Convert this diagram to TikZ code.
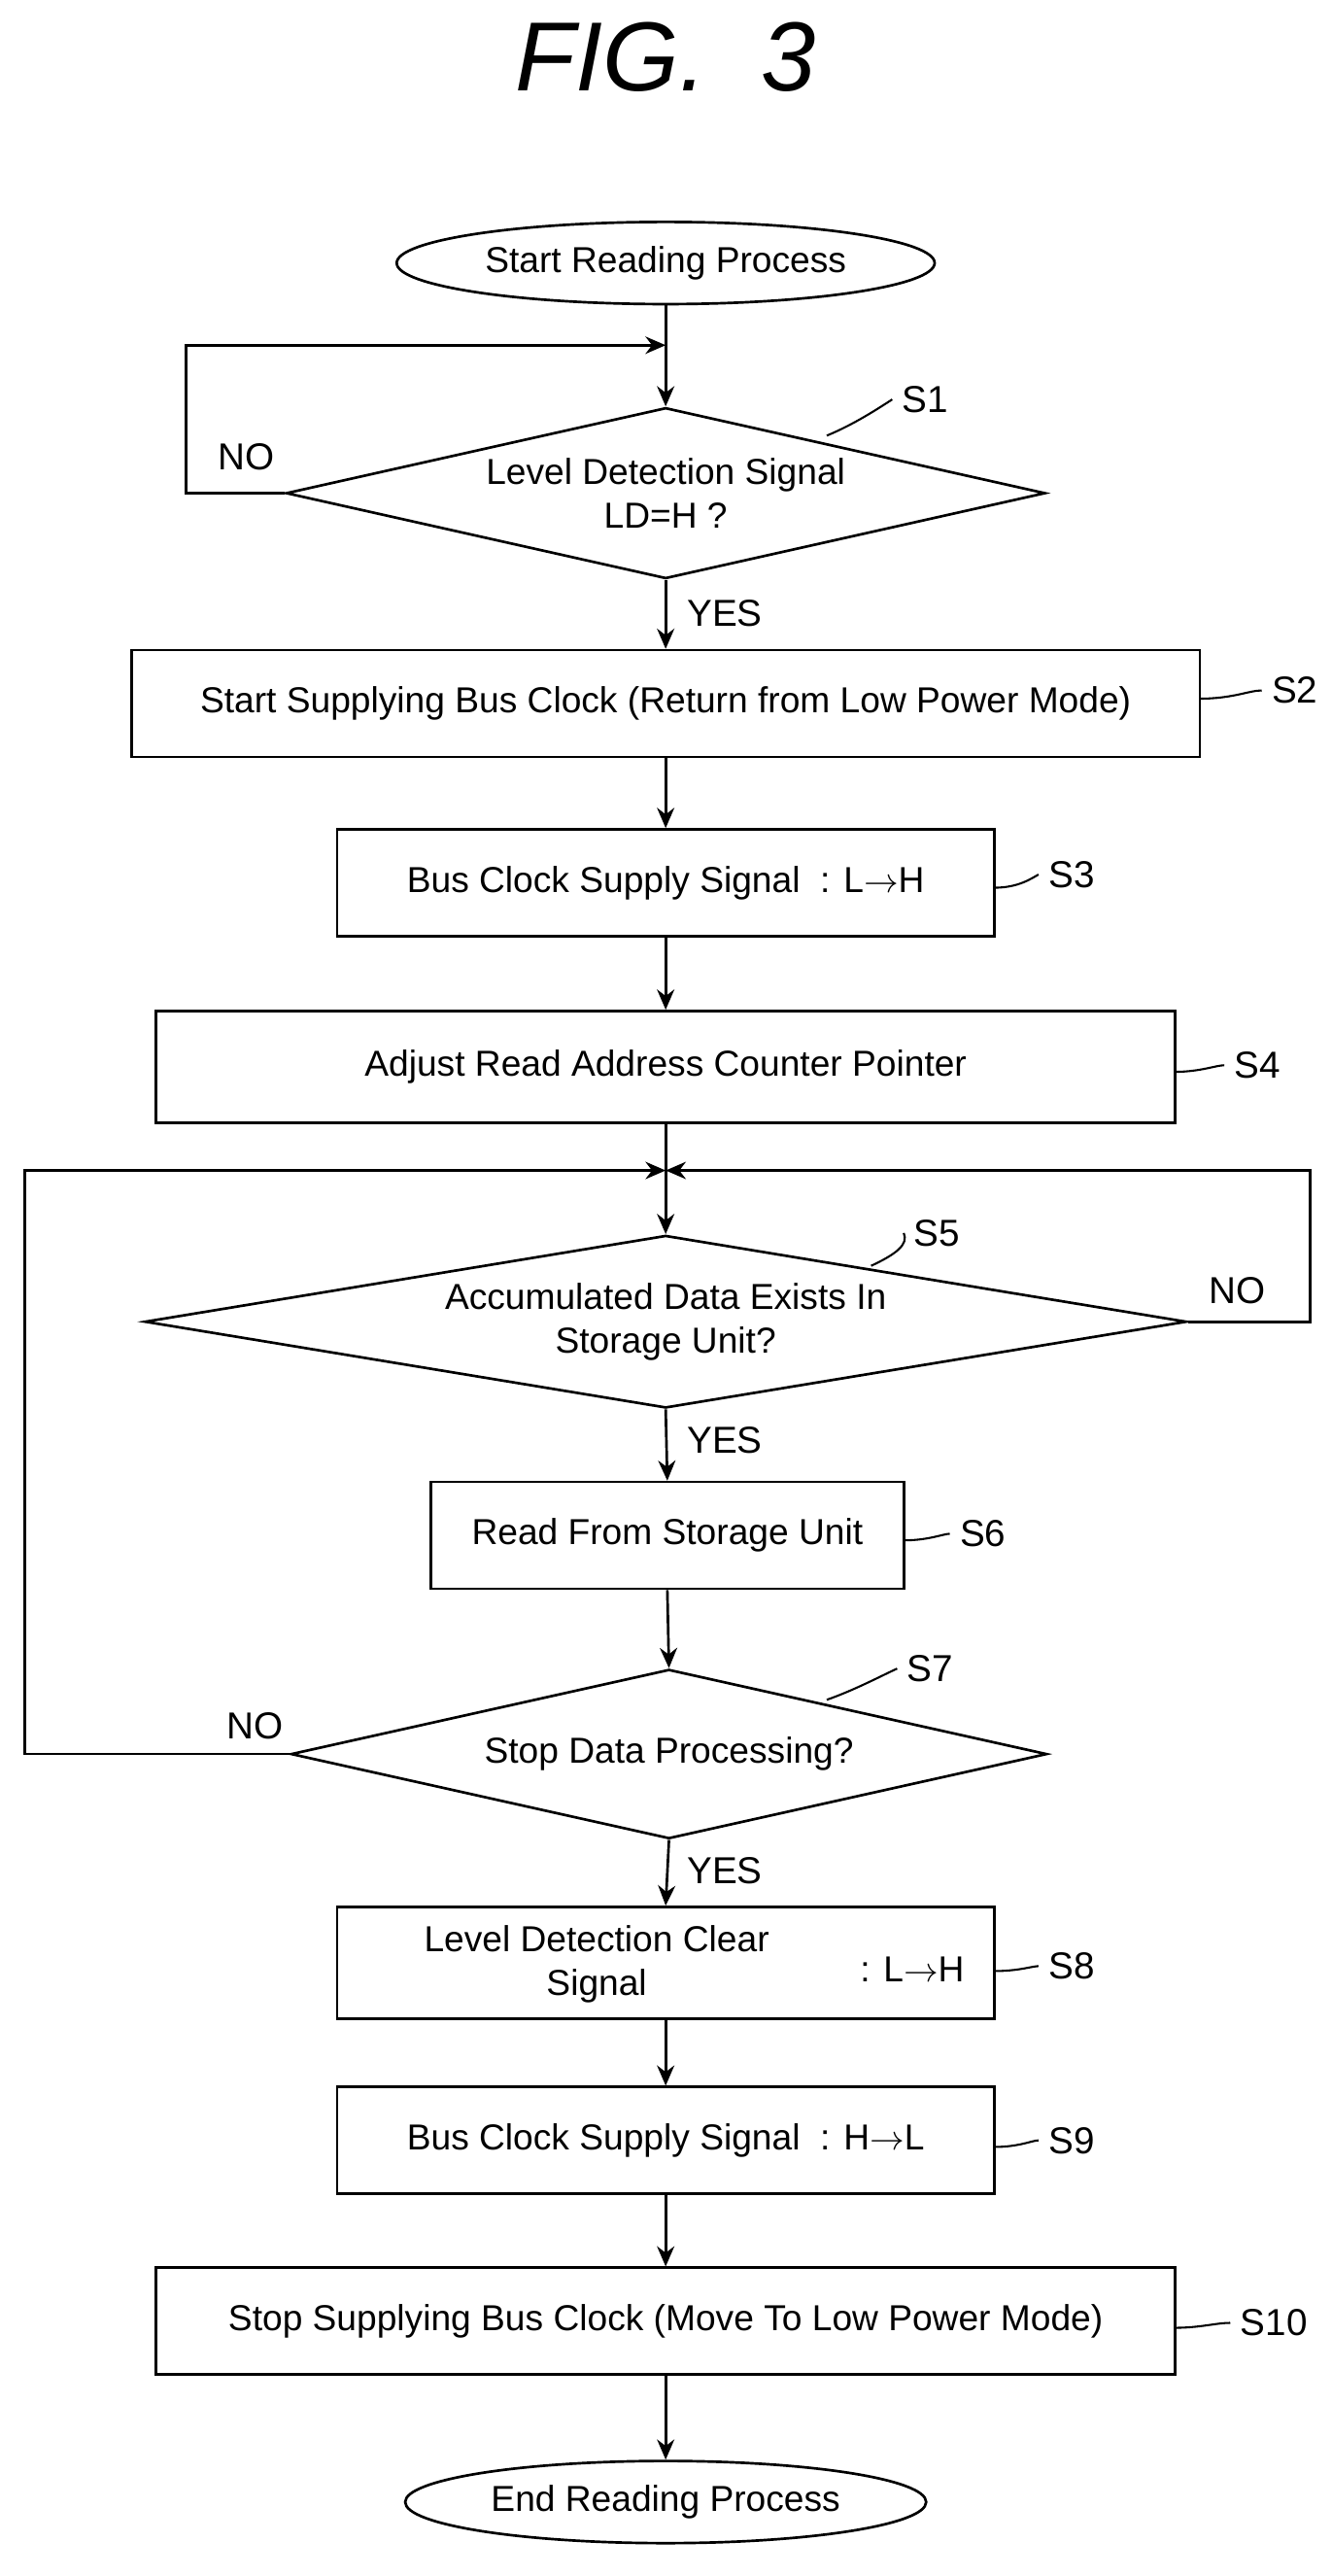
\documentclass[tikz,border=0pt]{standalone}
\usepackage{fontspec}
\setmainfont{Liberation Sans}
\usetikzlibrary{shapes.geometric,arrows.meta}
\begin{document}
\begin{tikzpicture}[x=0.02cm,y=-0.02cm,
  every node/.style={font=\fontsize{12.5}{15}\selectfont},
  box/.style={draw,line width=0.9pt,minimum height=1.3cm,anchor=center,inner sep=0},
  dia/.style={draw,line width=0.9pt,diamond,inner sep=0,align=center},
  ov/.style={draw,line width=0.9pt,ellipse,minimum width=4.8cm,minimum height=1cm},
  ar/.style={line width=0.9pt,-{Stealth[length=7pt,width=6pt]}},
  ln/.style={line width=0.9pt},
  lab/.style={font=\fontsize{13}{15}\selectfont},
  lead/.style={line width=0.7pt}]
\useasboundingbox (0,0) rectangle (810,1567);
\node[font=\fontsize{34}{40}\itshape] (t) at (405,35) {FIG.\ \ 3};
\node[ov] (st) at (405,160) {Start Reading Process};
\coordinate (j1) at (405,210);
\node[dia,minimum width=9.24cm,minimum height=2.08cm] (s1) at (405,300) {};
\node at (405,300) [align=center] {Level Detection Signal\\LD=H ?};
\node[box,minimum width=13cm] (s2) at (405,428) {Start Supplying Bus Clock (Return from Low Power Mode)};
\node[box,minimum width=8cm] (s3) at (405,537) {Bus Clock Supply Signal\ \ : L$\rightarrow$H};
\node[box,minimum width=12.4cm,minimum height=1.36cm] (s4) at (405,649) {Adjust Read Address Counter Pointer};
\coordinate (j2) at (405,712);
\node[dia,minimum width=12.68cm,minimum height=2.1cm] (s5) at (405,804) {};
\node at (405,804) [align=center] {Accumulated Data Exists In\\Storage Unit?};
\node[box,minimum width=5.76cm] (s6) at (406,934) {Read From Storage Unit};
\node[dia,minimum width=9.2cm,minimum height=2.06cm] (s7) at (407,1067) {};
\node at (407,1067) {Stop Data Processing?};
\node[box,minimum width=8cm,minimum height=1.36cm] (s8) at (405,1194) {};
\node[align=center] (s8t) at (363,1195) {Level Detection Clear\\Signal};
\node (s8r) at (555,1198) {: L$\rightarrow$H};
\node[box,minimum width=8cm] (s9) at (405,1302) {Bus Clock Supply Signal\ \ : H$\rightarrow$L};
\node[box,minimum width=12.4cm] (s10) at (405,1412) {Stop Supplying Bus Clock (Move To Low Power Mode)};
\node[ov] (en) at (405,1522) {End Reading Process};
% arrows
\draw[ln] (st.south) -- (j1);
\draw[ar] (j1) -- (s1.north);
\draw[ar] (s1.south) -- (s2.north);
\draw[ar] (s2.south) -- (s3.north);
\draw[ar] (s3.south) -- (s4.north);
\draw[ln] (s4.south) -- (j2);
\draw[ar] (j2) -- (s5.north);
\draw[ar] (s5.south) -- (s6.north);
\draw[ar] (s6.south) -- (s7.north);
\draw[ar] (s7.south) -- (s8.north);
\draw[ar] (s8.south) -- (s9.north);
\draw[ar] (s9.south) -- (s10.north);
\draw[ar] (s10.south) -- (en.north);
% loops
\coordinate (l1a) at (113,300); \coordinate (l1b) at (113,210);
\draw[ar] (s1.west) -- (l1a) -- (l1b) -- (j1);
\coordinate (l5a) at (797,804); \coordinate (l5b) at (797,712);
\draw[ar] (s5.east) -- (l5a) -- (l5b) -- (j2);
\coordinate (l7a) at (15,1067); \coordinate (l7b) at (15,712);
\draw[ar] (s7.west) -- (l7a) -- (l7b) -- (j2);
% yes/no
\node[lab] (n1) at (150,278) {NO};
\node[lab] (y1) at (441,373) {YES};
\node[lab] (n5) at (753,785) {NO};
\node[lab] (y5) at (441,876) {YES};
\node[lab] (n7) at (155,1050) {NO};
\node[lab] (y7) at (441,1138) {YES};
% step labels
\node[lab] (S1) at (563,243) {S1};
\draw[lead] (503,265) .. controls (520,258) and (535,248) .. (S1.west);
\node[lab] (S2) at (808,420) [anchor=east] {S2};
\draw[lead] (730,425) .. controls (750,425) and (760,420) .. (S2.west);
\node[lab] (S3) at (652,532) {S3};
\draw[lead] (605,540) .. controls (620,540) and (628,534) .. (S3.west);
\node[lab] (S4) at (765,648) {S4};
\draw[lead] (715,652) .. controls (730,652) and (740,648) .. (S4.west);
\node[lab] (S5) at (570,750) {S5};
\draw[lead] (530,770) .. controls (545,763) and (553,757) .. (S5.west);
\node[lab] (S6) at (598,933) {S6};
\draw[lead] (550,937) .. controls (565,937) and (574,933) .. (S6.west);
\node[lab] (S7) at (566,1015) {S7};
\draw[lead] (503,1034) .. controls (520,1028) and (535,1020) .. (S7.west);
\node[lab] (S8) at (652,1196) {S8};
\draw[lead] (605,1199) .. controls (620,1199) and (628,1196) .. (S8.west);
\node[lab] (S9) at (652,1302) {S9};
\draw[lead] (605,1306) .. controls (620,1306) and (628,1302) .. (S9.west);
\node[lab] (S10) at (775,1413) {S10};
\draw[lead] (715,1416) .. controls (730,1416) and (740,1413) .. (S10.west);
\end{tikzpicture}
\end{document}
